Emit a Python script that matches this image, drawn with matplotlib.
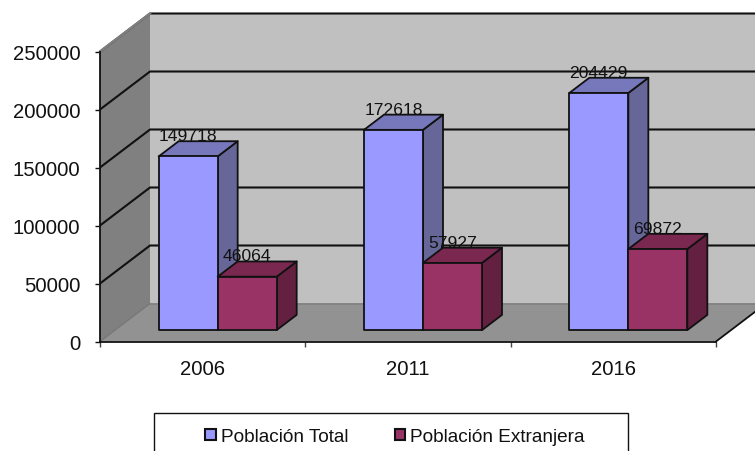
import matplotlib
matplotlib.use('Agg')
import matplotlib.pyplot as plt
from matplotlib.patches import Polygon, Patch, Rectangle

plt.rcParams['font.family'] = ['Liberation Sans', 'DejaVu Sans']

years = ['2006', '2011', '2016']
total = [149718, 172618, 204429]
extranjera = [46064, 57927, 69872]
yticks = [0, 50000, 100000, 150000, 200000, 250000]

# fake 3D: depth shifts everything right and up by a fixed amount
DX = 50 / (616 / 3)
DY = 38 / (290 / 250000)
BAR_W = 59 / (616 / 3)
Z0, Z1 = 0.3, 0.7
YMAX = 250000
XMAX = 3


def pt(x, y, z=0):
    return (x + z * DX, y + z * DY)


fig = plt.figure(figsize=(7.55, 4.52), dpi=100)
ax = fig.add_axes([100 / 755, 109.5 / 452, 616 / 755, 290 / 452])
ax.set_xlim(0, XMAX)
ax.set_ylim(0, YMAX)
ax.patch.set_alpha(0)


def poly(points, color, edge='none', lw=0, z=1):
    ax.add_patch(Polygon(points, closed=True, facecolor=color, edgecolor=edge,
                         linewidth=lw, zorder=z, clip_on=False, joinstyle='round'))


# walls and floor
poly([pt(0, 0, 1), pt(XMAX, 0, 1), pt(XMAX, YMAX, 1), pt(0, YMAX, 1)], '#C0C0C0')
poly([pt(0, 0), pt(0, YMAX), pt(0, YMAX, 1), pt(0, 0, 1)], '#808080')
poly([pt(0, 0), pt(XMAX, 0), pt(XMAX, 0, 1), pt(0, 0, 1)], '#929292')

# grid lines on left wall and back wall
for v in yticks[1:]:
    ax.plot(*zip(pt(0, v), pt(0, v, 1), pt(XMAX, v, 1)), color='#111111', lw=1.5,
            zorder=2, clip_on=False, solid_capstyle='butt')
# the top edge of the left wall has no black line
ax.plot(*zip(pt(0, YMAX), pt(0, YMAX, 1)), color='#808080', lw=1.7, zorder=2, clip_on=False)
ax.plot(*zip(pt(0, 0), pt(0, 0, 1)), color='#777777', lw=1, zorder=2, clip_on=False)
ax.plot(*zip(pt(0, 0, 1), pt(XMAX, 0, 1)), color='#808080', lw=1.2, zorder=2, clip_on=False)
ax.plot(*zip(pt(XMAX, 0), pt(XMAX, 0, 1)), color='#111111', lw=1.3, zorder=2, clip_on=False)


def bar3d(x, v, front, side, top):
    x1 = x + BAR_W
    poly([pt(x1, 0, Z0), pt(x1, 0, Z1), pt(x1, v, Z1), pt(x1, v, Z0)], side, '#111111', 1.3, 3)
    poly([pt(x, v, Z0), pt(x1, v, Z0), pt(x1, v, Z1), pt(x, v, Z1)], top, '#111111', 1.3, 3)
    poly([pt(x, 0, Z0), pt(x1, 0, Z0), pt(x1, v, Z0), pt(x, v, Z0)], front, '#111111', 1.3, 3)
    ax.annotate(str(v), xy=pt(x + BAR_W / 2, v, Z0), xytext=(0, 9.5), textcoords='offset points',
                ha='center', va='bottom', fontsize=12.6, color='#111111', zorder=5,
                annotation_clip=False)


for i in range(len(years)):
    left = i + 0.5 - BAR_W  # the two bars meet at the middle of the category
    bar3d(left, total[i], '#9999FF', '#666699', '#7777BB')
    bar3d(left + BAR_W, extranjera[i], '#993366', '#632040', '#7A2850')

# axes
for s in ['top', 'right']:
    ax.spines[s].set_visible(False)
for s in ['left', 'bottom']:
    ax.spines[s].set_linewidth(1.3)
    ax.spines[s].set_color('#111111')
    ax.spines[s].set_zorder(4)
ax.set_yticks(yticks)
ax.tick_params(axis='y', length=3.6, width=1, labelsize=14.6, pad=10.5, colors='#111111')
ax.set_xticks(range(XMAX + 1))
ax.set_xticklabels([])
ax.tick_params(axis='x', which='major', length=3.6, width=1, color='#444444')
ax.set_xticks([i + 0.5 for i in range(len(years))], minor=True)
ax.set_xticklabels(years, minor=True)
ax.tick_params(axis='x', which='minor', length=0, labelsize=14.6, pad=12.5, colors='#111111')

# legend box runs off the bottom of the picture
fig.add_artist(Rectangle((154 / 755, -10 / 452), 473.5 / 755, 48 / 452, transform=fig.transFigure,
                         facecolor='white', edgecolor='#111111', linewidth=1))
handles = [Patch(facecolor='#9999FF', edgecolor='#111111', linewidth=1.5, label='Población Total'),
           Patch(facecolor='#993366', edgecolor='#111111', linewidth=1.5, label='Población Extranjera')]
fig.legend(handles=handles, loc='center', bbox_to_anchor=(395 / 755, 14.5 / 452), ncol=2, frameon=False,
           fontsize=13.7, handlelength=0.55, handleheight=0.55, handletextpad=0.25, columnspacing=2.45,
           labelcolor='#111111')

fig.savefig('out.png', dpi=100)
